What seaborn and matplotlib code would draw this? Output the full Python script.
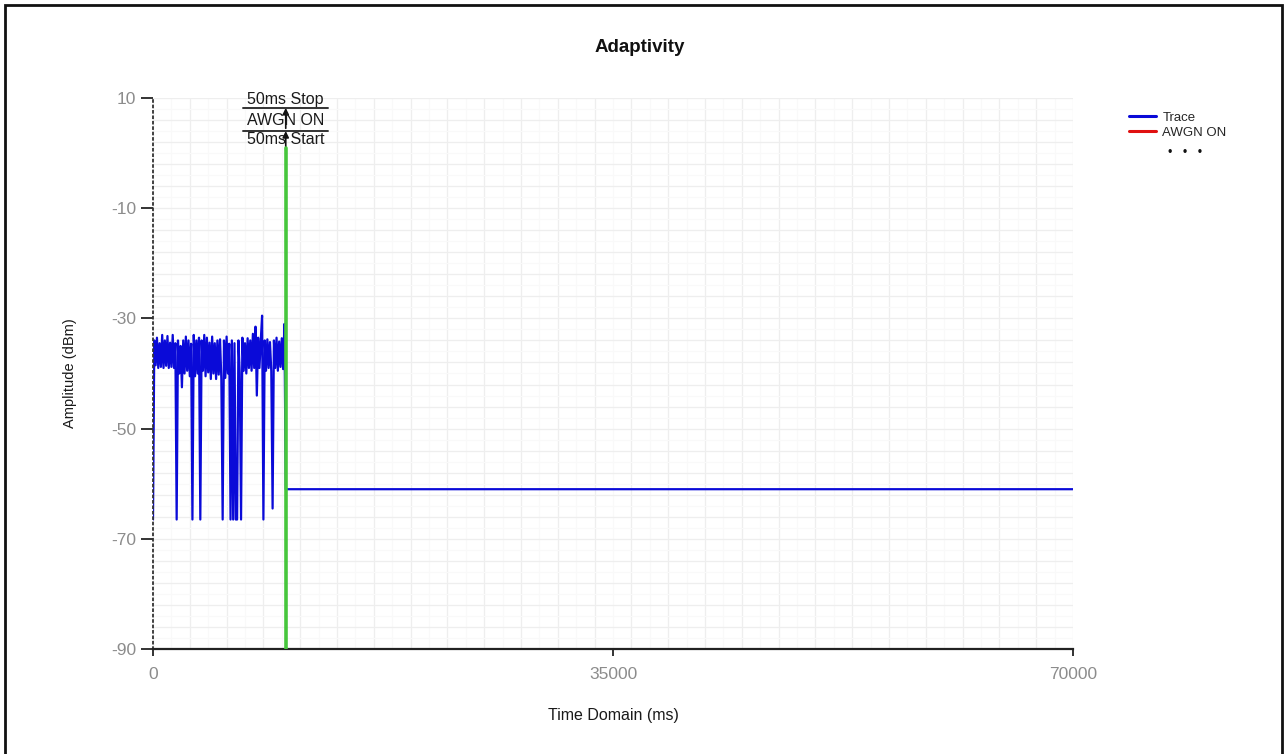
"""Adaptivity trace: amplitude vs time with AWGN marker."""
import matplotlib
matplotlib.use("Agg")
import matplotlib.pyplot as plt
from matplotlib.lines import Line2D
from matplotlib.patches import Rectangle
import seaborn as sns

# --- data ------------------------------------------------------------------
noise_ms = [
    0, 100, 200, 300, 400, 500, 600, 700, 800, 900,
    1000, 1100, 1200, 1300, 1400, 1500, 1600, 1700, 1800, 1900,
    2000, 2100, 2200, 2300, 2400, 2500, 2600, 2700, 2800, 2900,
    3000, 3100, 3200, 3300, 3400, 3500, 3600, 3700, 3800, 3900,
    4000, 4100, 4200, 4300, 4400, 4500, 4600, 4700, 4800, 4900,
    5000, 5100, 5200, 5300, 5400, 5500, 5600, 5700, 5800, 5900,
    6000, 6100, 6200, 6300, 6400, 6500, 6600, 6700, 6800, 6900,
    7000, 7100, 7200, 7300, 7400, 7500, 7600, 7700, 7800, 7900,
    8000, 8100, 8200, 8300, 8400, 8500, 8600, 8700, 8800, 8900,
    9000, 9100, 9200, 9300, 9400, 9500, 9600, 9700, 9800, 9900,
    10000,
]
noise_dbm = [
    -66.5, -34.0, -38.5, -33.5, -39.0, -34.5, -38.8, -33.0, -39.0, -34.0,
    -38.6, -33.2, -39.0, -34.4, -38.8, -33.0, -39.0, -34.5, -66.5, -34.0,
    -40.0, -35.0, -42.5, -34.0, -40.0, -33.3, -39.5, -34.0, -40.5, -34.6,
    -66.5, -33.0, -40.5, -34.0, -40.0, -33.5, -66.5, -34.0, -39.5, -33.0,
    -40.5, -33.5, -39.8, -34.4, -41.0, -33.3, -40.0, -34.5, -41.0, -34.0,
    -40.2, -33.8, -41.0, -66.5, -34.0, -40.8, -33.3, -40.0, -34.6, -66.5,
    -34.0, -66.5, -34.5, -66.5, -66.5, -34.0, -40.0, -66.5, -33.5, -39.5,
    -34.5, -40.0, -33.6, -39.0, -34.0, -39.5, -32.8, -39.0, -31.5, -44.0,
    -33.5, -39.0, -34.0, -29.5, -66.5, -34.0, -39.5, -33.8, -39.0, -34.3,
    -39.6, -64.5, -34.0, -39.0, -33.5, -39.5, -34.2, -38.8, -33.6, -39.2,
    -31.0,
]
quiet_ms = [10100, 70000]
quiet_dbm = [-61.0, -61.0]

trace_ms = noise_ms + quiet_ms
trace_dbm = noise_dbm + quiet_dbm

awgn_ms = 10100
x_ticks = [0, 35000, 70000]
y_ticks = [10, -10, -30, -50, -70, -90]
marker_labels = ["50ms Stop", "AWGN ON", "50ms Start"]
legend_labels = ["Trace", "AWGN ON"]

# --- figure -----------------------------------------------------------------
sns.set_style("white")
plt.rcParams["font.family"] = ["Liberation Sans", "DejaVu Sans"]
plt.rcParams["axes.unicode_minus"] = False

fig = plt.figure(figsize=(12.85, 7.54), dpi=100)
fig.patches.append(Rectangle((5 / 1285, -0.01), 1277 / 1285, 0.01 + 749 / 754,
                             transform=fig.transFigure, fill=False,
                             edgecolor="#111111", linewidth=2.0))
ax = fig.add_axes([153 / 1285, 1 - 649 / 754, 920 / 1285, 551 / 754])

sns.lineplot(x=trace_ms, y=trace_dbm, ax=ax, color="#0a0ad8", linewidth=1.6,
             estimator=None, sort=False, label="Trace", legend=False)

# AWGN marker line and annotation
ax.plot([awgn_ms, awgn_ms], [-90, 1.0], color="#46c63c", linewidth=2.6, zorder=4)
ax.annotate("", xy=(awgn_ms, 8.2), xytext=(awgn_ms, 4.5),
            arrowprops=dict(arrowstyle="-|>", color="#111111", lw=1.2,
                            mutation_scale=9, shrinkA=0, shrinkB=0))
ax.annotate("", xy=(awgn_ms, 4.0), xytext=(awgn_ms, 0.5),
            arrowprops=dict(arrowstyle="-|>", color="#111111", lw=1.2,
                            mutation_scale=9, shrinkA=0, shrinkB=0))
for yv in [8.2, 4.0]:
    ax.plot([6850, 13300], [yv, yv], color="#333333", linewidth=1.4,
            clip_on=False, zorder=5)
for label, yv in zip(marker_labels, [9.7, 6.0, 2.5]):
    ax.text(awgn_ms, yv, label, ha="center", va="center", fontsize=11.5,
            color="#1a1a1a", zorder=6, clip_on=False)

ax.set_xlim(0, 70000)
ax.set_ylim(-90, 10)
ax.set_xticks(x_ticks)
ax.set_yticks(y_ticks)
ax.set_xticklabels([str(t) for t in x_ticks])

ax.grid(False)
for xv in range(0, 70001, 2800):
    ax.axvline(xv, color="#eeeeee", linewidth=0.9, zorder=0)
for xv in range(1400, 70000, 2800):
    ax.axvline(xv, color="#f9f9f9", linewidth=0.8, zorder=0)
for yv in range(-90, 11, 4):
    ax.axhline(yv, color="#eeeeee", linewidth=0.9, zorder=0)
for yv in range(-88, 10, 4):
    ax.axhline(yv, color="#f9f9f9", linewidth=0.8, zorder=0)

ax.tick_params(axis="y", which="major", direction="out", length=9, width=1.4,
               color="#333333", labelcolor="#8c8c8c", labelsize=12.5, pad=3, left=True)
ax.tick_params(axis="x", which="major", direction="out", length=5, width=1.4,
               color="#333333", labelcolor="#8c8c8c", labelsize=12.5, pad=8, bottom=True)

for side in ["top", "right"]:
    ax.spines[side].set_visible(False)
ax.spines["left"].set_linestyle((0, (1, 2)))
ax.spines["left"].set_color("#333333")
ax.spines["left"].set_linewidth(1.3)
ax.spines["bottom"].set_color("#222222")
ax.spines["bottom"].set_linewidth(1.6)

ax.set_xlabel("Time Domain (ms)", fontsize=11.5, color="#1a1a1a")
ax.set_ylabel("Amplitude (dBm)", fontsize=10.5, color="#1a1a1a")
ax.xaxis.set_label_coords(0.5, -0.107)
ax.yaxis.set_label_coords(-0.083, 0.5)

fig.text(0.498, 1 - 48 / 754, "Adaptivity", ha="center",
         va="center", fontsize=13.5, fontweight="bold", color="#111111")

handles = [Line2D([], [], color="#0a0ad8", linewidth=2.2),
           Line2D([], [], color="#e01010", linewidth=2.2)]
fig.legend(handles, legend_labels, loc="upper left",
           bbox_to_anchor=(1124 / 1285, 1 - 106 / 754), frameon=False,
           fontsize=9.5, handlelength=2.0, handletextpad=0.5,
           labelspacing=0.25, borderaxespad=0)
fig.text(1185 / 1285, 1 - 153 / 754, "\u2022   \u2022   \u2022", ha="center",
         va="center", fontsize=9, color="#111111")

fig.savefig("out.png", dpi=100)
plt.close(fig)
